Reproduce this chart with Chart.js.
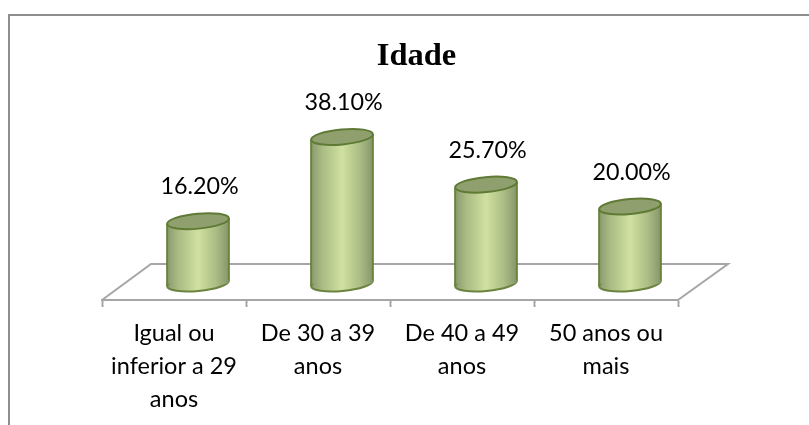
<!DOCTYPE html>
<html>
<head>
<meta charset="utf-8">
<style>html,body{margin:0;padding:0;background:#fff}canvas{display:block}</style>
<script src="https://cdn.jsdelivr.net/npm/chart.js@4/dist/chart.umd.min.js"></script>
</head>
<body>
<canvas id="c" width="809" height="425"></canvas>
<script>
const categories = [["Igual ou","inferior a 29","anos"],["De 30 a 39","anos"],["De 40 a 49","anos"],["50 anos ou","mais"]];
const values = [16.2, 38.1, 25.7, 20.0];
const valueLabels = ["16.20%","38.10%","25.70%","20.00%"];
const chartTitle = "Idade";

const SHIFT = 24, RX = 31, RY = 7.5, ROT = -5.3 * Math.PI / 180, BAR_W = 62;
const DX = Math.cos(ROT) * RX, DY = Math.sin(ROT) * RX;
const LABEL_FONT = '23.3px Lato, "Open Sans", sans-serif';

function barFill(chart, x) {
  const g = chart.ctx.createLinearGradient(x - RX, 0, x + RX, 0);
  g.addColorStop(0, '#8a9a6c');
  g.addColorStop(0.2, '#adbe86');
  g.addColorStop(0.5, '#cfe0a0');
  g.addColorStop(0.78, '#adbe86');
  g.addColorStop(1, '#86966a');
  return g;
}

const cylinder = {
  id: 'cylinder',
  afterLayout(chart) {
    // title is centred on the reference's own off-centre position
    chart.titleBlock.left = 24;
    chart.titleBlock.right = 809;
  },
  beforeDraw(chart) {
    const c = chart.ctx;
    c.save();
    c.fillStyle = '#fff';
    c.fillRect(0, 0, chart.width, chart.height);
    c.strokeStyle = '#8e8e8e';
    c.lineWidth = 2;
    c.beginPath();
    c.moveTo(9, 425); c.lineTo(9, 15); c.lineTo(809, 15);
    c.stroke();
    c.restore();
  },
  beforeDatasetsDraw(chart) {
    const c = chart.ctx, a = chart.chartArea;
    c.save();
    c.strokeStyle = '#a6a6a6';
    c.lineWidth = 2;
    c.beginPath();
    c.moveTo(a.left, a.bottom);
    c.lineTo(a.left + 49, a.bottom - 36);
    c.lineTo(a.right + 50, a.bottom - 36);
    c.lineTo(a.right, a.bottom);
    c.stroke();
    c.restore();
  },
  beforeDatasetDraw(chart) {
    const c = chart.ctx;
    const bars = chart.getDatasetMeta(0).data;
    c.save();
    c.translate(SHIFT, 0);
    // base ellipses
    bars.forEach(b => {
      c.beginPath();
      c.ellipse(b.x, b.base, RX, RY, ROT, 0, Math.PI * 2);
      c.fillStyle = barFill(chart, b.x);
      c.fill();
      c.strokeStyle = '#6a8440';
      c.lineWidth = 2;
      c.stroke();
    });
    // clip the native bars to the tilted silhouette
    c.beginPath();
    bars.forEach(b => {
      c.moveTo(b.x + DX, b.base + DY);
      c.ellipse(b.x, b.base, RX, RY, ROT, 0, Math.PI);
      c.lineTo(b.x - DX, b.y - DY);
      c.lineTo(b.x + DX, b.y + DY);
      c.closePath();
    });
    c.clip();
  },
  afterDatasetDraw(chart) {
    const c = chart.ctx;
    const bars = chart.getDatasetMeta(0).data;
    c.restore();
    c.save();
    c.translate(SHIFT, 0);
    bars.forEach(b => {
      c.strokeStyle = '#6a8440';
      c.lineWidth = 2;
      c.beginPath();
      c.moveTo(b.x - DX, b.y - DY); c.lineTo(b.x - DX, b.base - DY);
      c.moveTo(b.x + DX, b.y + DY); c.lineTo(b.x + DX, b.base + DY);
      c.stroke();
      c.beginPath();
      c.ellipse(b.x, b.y, RX, RY, ROT, 0, Math.PI * 2);
      c.fillStyle = '#8fa06e';
      c.fill();
      c.strokeStyle = '#5f7a35';
      c.stroke();
    });
    c.fillStyle = '#000';
    c.font = LABEL_FONT;
    c.textAlign = 'center';
    c.textBaseline = 'middle';
    bars.forEach((b, i) => c.fillText(valueLabels[i], b.x + 1.5, b.y - 34.5));
    c.restore();
  }
};

new Chart(document.getElementById('c'), {
  type: 'bar',
  data: {
    labels: categories,
    datasets: [{
      data: values,
      barThickness: BAR_W,
      borderWidth: 0,
      backgroundColor: ctx => {
        const i = ctx.dataIndex;
        const x = typeof i === 'number' ? ctx.chart.scales.x.getPixelForValue(i) : NaN;
        return Number.isFinite(x) ? barFill(ctx.chart, x) : '#cfe0a0';
      }
    }]
  },
  options: {
    responsive: false,
    animation: false,
    layout: { padding: { left: 102, right: 131, top: 0, bottom: 0 } },
    plugins: {
      legend: { display: false },
      tooltip: { enabled: false },
      title: {
        display: true,
        text: chartTitle,
        color: '#000',
        font: { family: '"Liberation Serif", serif', size: 32.5, weight: 'bold', lineHeight: 1.2 },
        padding: { top: 36.7, bottom: 24.3 }
      }
    },
    scales: {
      x: {
        afterFit(s) { s.height = 125; },
        border: { display: true, color: '#a6a6a6', width: 2 },
        grid: { display: true, drawOnChartArea: false, drawTicks: true, tickLength: 7, tickColor: '#a6a6a6', tickWidth: 2, offset: true },
        ticks: {
          color: '#000', maxRotation: 0, minRotation: 0, autoSkip: false, padding: 10,
          font: { family: 'Lato, "Open Sans", sans-serif', size: 23.5, lineHeight: 1.41 }
        }
      },
      y: { display: false, min: -4.3, max: 47.7 }
    }
  },
  plugins: [cylinder]
});
</script>
</body>
</html>
